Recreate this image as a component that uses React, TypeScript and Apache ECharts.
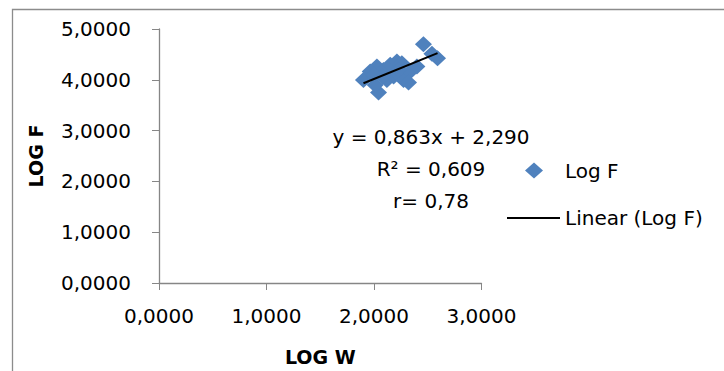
import React, { useEffect, useRef } from "react";
import * as echarts from "echarts";

const logW = [1.902, 1.965, 2.027, 2.042, 2.011, 2.088, 2.151, 2.213, 2.259, 2.182, 2.275, 2.337, 2.399, 2.12, 2.46, 2.591, 2.539, 2.079, 2.321, 2.0, 2.23];
const logF = [3.998, 4.162, 4.26, 3.748, 3.899, 4.195, 4.294, 4.359, 4.326, 4.063, 3.998, 4.162, 4.26, 3.998, 4.702, 4.426, 4.511, 4.063, 3.945, 4.1, 4.2];
const trendCoef = [0.863, 2.29]; // slope, intercept
const xTicks = [0, 1, 2, 3];
const yTicks = [0, 1, 2, 3, 4, 5];
const annotationLines = ["y = 0,863x + 2,290", "R² = 0,609", "r= 0,78"];

const FONT = "DejaVu Sans";
const fmt = (v: number) => v.toFixed(4).replace(".", ",");

export default function App() {
  const ref = useRef<HTMLDivElement>(null);
  useEffect(() => {
    if (!ref.current) return;
    const chart = echarts.init(ref.current, undefined, { renderer: "svg" });
    const pts = logW.map((x, i) => [x, logF[i]]);
    const xMin = Math.min(...logW);
    const xMax = Math.max(...logW);
    const trend = [xMin, xMax].map((x) => [x, trendCoef[0] * x + trendCoef[1]]);
    const axisColor = "#868686";
    chart.setOption({
      animation: false,
      grid: { left: 159, top: 29, width: 322.5, height: 254, containLabel: false },
      xAxis: {
        type: "value",
        min: xTicks[0],
        max: xTicks[xTicks.length - 1],
        interval: 1,
        name: "LOG W",
        nameLocation: "middle",
        nameGap: 64,
        nameTextStyle: { fontFamily: FONT, fontSize: 19, fontWeight: "bold", color: "#000" },
        axisLine: { show: true, lineStyle: { color: axisColor, width: 1.3 } },
        axisTick: { show: true, inside: false, length: 7, lineStyle: { color: axisColor } },
        axisLabel: { formatter: fmt, fontFamily: FONT, fontSize: 20, color: "#000", margin: 23 },
        splitLine: { show: false },
      },
      yAxis: {
        type: "value",
        min: yTicks[0],
        max: yTicks[yTicks.length - 1],
        interval: 1,
        name: "LOG F",
        nameLocation: "middle",
        nameRotate: 90,
        nameGap: 114,
        nameTextStyle: { fontFamily: FONT, fontSize: 19, fontWeight: "bold", color: "#000" },
        axisLine: { show: true, lineStyle: { color: axisColor, width: 1.3 } },
        axisTick: { show: true, inside: false, length: 7, lineStyle: { color: axisColor } },
        axisLabel: { formatter: fmt, fontFamily: FONT, fontSize: 20, color: "#000", margin: 28 },
        splitLine: { show: false },
      },
      legend: [
        {
          data: ["Log F"],
          left: 525,
          top: 160.5,
          padding: 0,
          orient: "vertical",
          itemWidth: 18,
          itemHeight: 16,
          textStyle: { fontFamily: FONT, fontSize: 20, color: "#000", padding: [0, 0, 0, 17] },
        },
        {
          data: [{ name: "Linear (Log F)", icon: "rect" }],
          left: 507,
          top: 208,
          padding: 0,
          orient: "vertical",
          itemWidth: 53,
          itemHeight: 2,
          textStyle: { fontFamily: FONT, fontSize: 20, color: "#000" },
        },
      ],
      series: [
        {
          name: "Log F",
          type: "scatter",
          data: pts,
          symbol: "diamond",
          symbolSize: [17, 16],
          itemStyle: { color: "#4F81BD", opacity: 1 },
          z: 2,
        },
        {
          name: "Linear (Log F)",
          type: "line",
          data: trend,
          symbol: "none",
          showSymbol: false,
          lineStyle: { color: "#000", width: 2 },
          itemStyle: { color: "#000" },
          z: 3,
        },
      ],
      graphic: [
        {
          type: "rect",
          shape: { x: 12.5, y: 9.5, width: 900, height: 600 },
          style: { fill: "none", stroke: "#8C8C8C", lineWidth: 1.3 },
          silent: true,
        },
        ...annotationLines.map((t, i) => ({
          type: "text",
          x: 431,
          y: 137 + i * 32,
          style: {
            text: t,
            fontFamily: FONT,
            fontSize: 20,
            fill: "#000",
            align: "center",
            verticalAlign: "middle",
          },
          silent: true,
        })),
      ],
    });
    return () => chart.dispose();
  }, []);
  return (
    <div
      ref={ref}
      style={{ position: "fixed", left: 0, top: 0, width: 724, height: 371, background: "#fff" }}
    />
  );
}
